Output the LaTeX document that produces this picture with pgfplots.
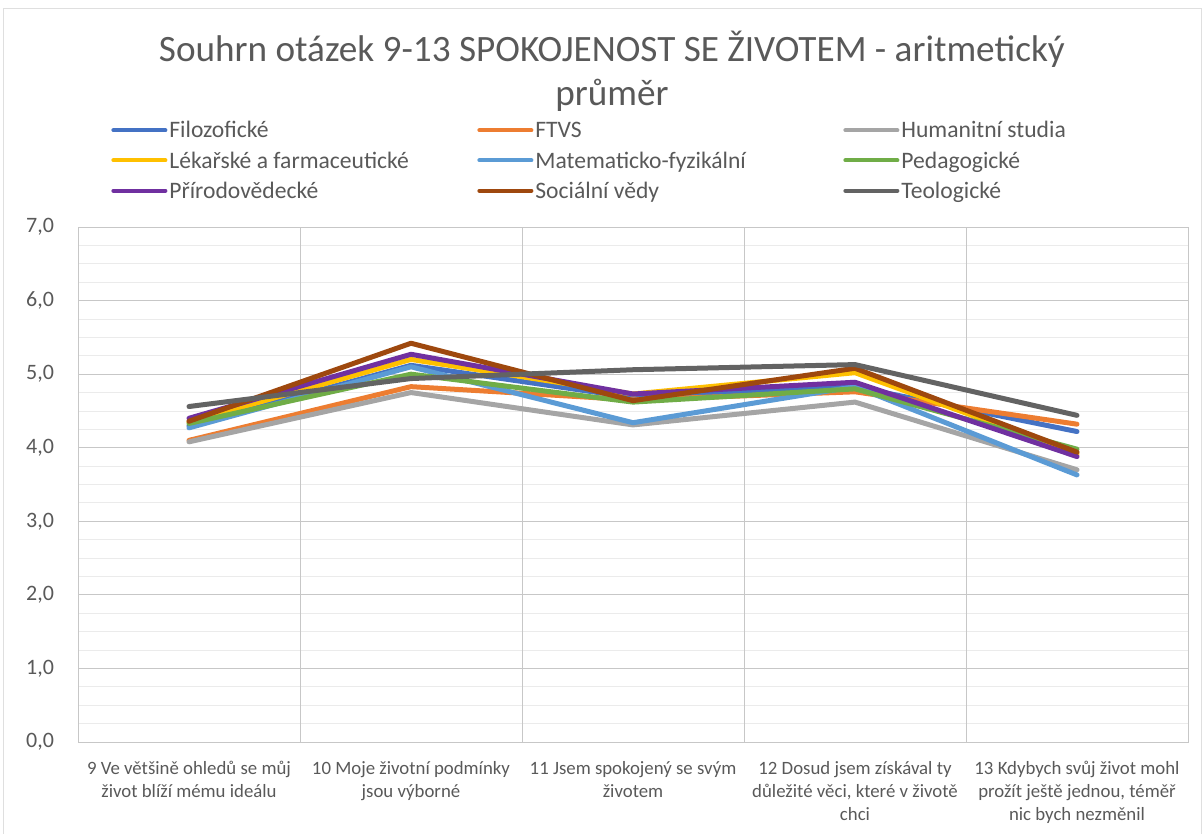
\documentclass[border=0pt]{standalone}
\usepackage{fontspec}
\setmainfont{Carlito}
\usepackage{pgfplots}
\pgfplotsset{compat=1.18}
\usepackage{pgfplotstable}
\definecolor{txt}{HTML}{595959}
\definecolor{cFilo}{HTML}{4472C4}
\definecolor{cFTVS}{HTML}{ED7D31}
\definecolor{cHum}{HTML}{A5A5A5}
\definecolor{cLek}{HTML}{FFC000}
\definecolor{cMat}{HTML}{5B9BD5}
\definecolor{cPed}{HTML}{70AD47}
\definecolor{cPrir}{HTML}{7030A0}
\definecolor{cSoc}{HTML}{9E480E}
\definecolor{cTeo}{HTML}{636363}
\pgfplotstableread{
x filo ftvs hum lek mat ped prir soc teo
0 4.30 4.10 4.08 4.35 4.27 4.33 4.40 4.36 4.56
1 5.12 4.83 4.75 5.20 5.10 5.00 5.27 5.42 4.94
2 4.68 4.65 4.31 4.73 4.34 4.62 4.73 4.64 5.06
3 4.83 4.76 4.62 5.02 4.83 4.80 4.89 5.08 5.13
4 4.22 4.32 3.70 3.92 3.63 3.98 3.88 3.94 4.44
}\data
\newcommand{\lt}[1]{\makebox[153pt][l]{\strut #1}}
\begin{document}
\begin{tikzpicture}
\useasboundingbox (0,0) rectangle (601.5pt,417pt);
\draw[gray!25] (1.5pt,0pt) -- (1.5pt,413pt) -- (600.5pt,413pt) -- (600.5pt,0pt);
\begin{axis}[
  at={(39pt,46pt)}, anchor=south west,
  scale only axis, width=555pt, height=257.5pt,
  xmin=-0.5, xmax=4.5, ymin=0, ymax=7,
  ytick={0,...,7}, minor y tick num=3,
  ymajorgrids, yminorgrids,
  major grid style={draw=black!22},
  minor grid style={draw=black!8},
  major tick length=0pt, minor tick length=0pt,
  axis line style={draw=black!22},
  xtick={0,...,4},
  xticklabels={{9 Ve většině ohledů se můj\\život blíží mému ideálu},
    {10 Moje životní podmínky\\jsou výborné},
    {11 Jsem spokojený se svým\\životem},
    {12 Dosud jsem získával ty\\důležité věci, které v životě\\chci},
    {13 Kdybych svůj život mohl\\prožít ještě jednou, téměř\\nic bych nezměnil}},
  xticklabel style={align=center, font=\fontsize{9.4}{11.5}\selectfont, text=txt, yshift=-6pt},
  extra x ticks={0.5,1.5,2.5,3.5}, extra x tick labels={},
  extra x tick style={grid=major, major grid style={draw=black!22}},
  yticklabel style={font=\fontsize{11}{13}\selectfont, text=txt, xshift=-8.5pt},
  y tick label style={/pgf/number format/.cd, fixed, fixed zerofill, precision=1, use comma, assume math mode=true},
  title={Souhrn otázek 9-13 SPOKOJENOST SE ŽIVOTEM - aritmetický\\průměr},
  title style={align=center, font=\fontsize{18.6}{22}\selectfont, text=txt, at={(0.481,1.279)}, anchor=center, yshift=0pt},
  legend columns=3,
  legend style={at={(0.0243,1.221)}, anchor=north west, draw=none, fill=none,
    font=\fontsize{11.8}{13}\selectfont, text=txt, row sep=2.5pt,
    nodes={inner sep=1pt},
    /tikz/every even column/.append style={column sep=0pt}},
  legend cell align=left,
  legend image code/.code={\draw[line width=2pt, line cap=round] (0pt,0pt) -- (26pt,0pt);},
  every axis plot/.append style={line width=2.5pt, line cap=round, line join=round, mark=none},
]
\addplot[cFilo] table[x=x,y=filo]{\data}; \addlegendentry{\lt{Filozofické}}
\addplot[cFTVS] table[x=x,y=ftvs]{\data}; \addlegendentry{\lt{FTVS}}
\addplot[cHum] table[x=x,y=hum]{\data}; \addlegendentry{\lt{Humanitní studia}}
\addplot[cLek] table[x=x,y=lek]{\data}; \addlegendentry{\lt{Lékařské a farmaceutické}}
\addplot[cMat] table[x=x,y=mat]{\data}; \addlegendentry{\lt{Matematicko-fyzikální}}
\addplot[cPed] table[x=x,y=ped]{\data}; \addlegendentry{\lt{Pedagogické}}
\addplot[cPrir] table[x=x,y=prir]{\data}; \addlegendentry{\lt{Přírodovědecké}}
\addplot[cSoc] table[x=x,y=soc]{\data}; \addlegendentry{\lt{Sociální vědy}}
\addplot[cTeo] table[x=x,y=teo]{\data}; \addlegendentry{\lt{Teologické}}
\end{axis}
\end{tikzpicture}
\end{document}
